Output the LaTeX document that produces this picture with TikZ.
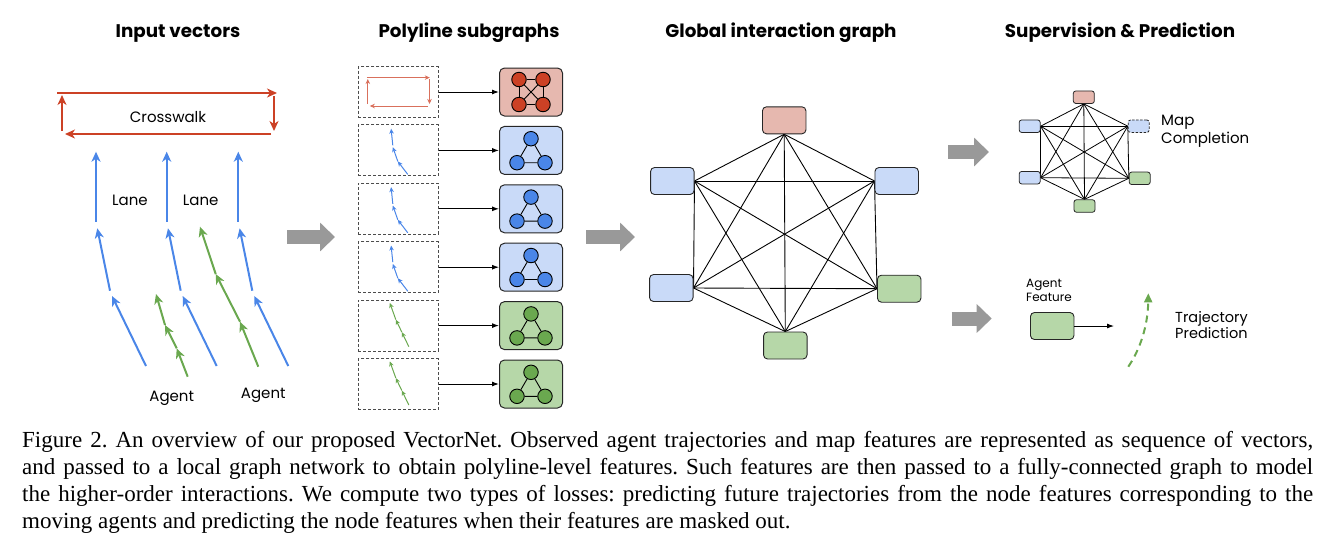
\documentclass[tikz,border=0pt]{standalone}
\usepackage{fontspec}
\setmainfont{Poppins}
\newfontfamily\capfont{Liberation Serif}
\usetikzlibrary{arrows.meta,positioning,backgrounds}
\definecolor{laneblue}{HTML}{4A86E8}
\definecolor{agentgreen}{HTML}{6AA84F}
\definecolor{walkred}{HTML}{CC4125}
\definecolor{redfill}{HTML}{E6B8AF}
\definecolor{bluefill}{HTML}{C9DAF8}
\definecolor{greenfill}{HTML}{B6D7A8}
\definecolor{arrowgray}{HTML}{999999}
\tikzset{vec/.style={line width=2pt,-{Stealth[length=10pt,width=9pt,inset=3pt]}},tinyvec/.style={line width=1pt,-{Stealth[length=5pt,width=4.5pt,inset=1.5pt]}},polybox/.style={draw=black!70,dash pattern=on 3pt off 2pt,line width=1pt,minimum width=80pt,minimum height=51pt,inner sep=0},subbox/.style={rounded corners=5pt,draw=black!85,line width=1pt,minimum width=63pt,minimum height=48pt,inner sep=0},dot/.style={circle,draw=black,line width=0.9pt,minimum size=14.5pt,inner sep=0},gnode/.style={rounded corners=4pt,draw=black!85,line width=0.9pt,minimum width=43.5pt,minimum height=27pt,inner sep=0},snode/.style={rounded corners=2.5pt,draw=black!85,line width=0.8pt,minimum width=21pt,minimum height=12.5pt,inner sep=0},gline/.style={draw=black,line width=0.9pt},link/.style={-{Latex[length=7pt,width=5pt]},line width=1pt},bigarrow/.style={draw=arrowgray,line width=14pt,-{Triangle[length=15pt,width=28pt]}},trajline/.style={draw=agentgreen,line width=2pt,dash pattern=on 7pt off 5pt,-{Triangle[length=9pt,width=8pt]}},title/.style={font=\fontsize{18.3}{21}\selectfont\bfseries,anchor=base},lbl/.style={font=\fontsize{15}{17}\selectfont,anchor=base,inner sep=0},capstyle/.style={anchor=north west,text width=1291pt,align=justify,inner sep=0,font=\capfont\fontsize{23}{27}\selectfont\frenchspacing}}

\begin{document}
\begin{tikzpicture}[x=1pt,y=-1pt]
\useasboundingbox (0,0) rectangle (1331,542);
\node[title] (t1) at (178,37) {Input vectors};
\node[title] (t2) at (469,37) {Polyline subgraphs};
\node[title] (t3) at (781,37) {Global interaction graph};
\node[title] (t4) at (1120,37) {Supervision \& Prediction};
% input vectors
\draw[vec,walkred] (57,93)--(277,93);\draw[vec,walkred] (274,96)--(274,131);\draw[vec,walkred] (271,134)--(65,134);\draw[vec,walkred] (62,131)--(62,95);
\node[lbl] (cw) at (168,122) {Crosswalk};
\foreach \x in {0,70.7,142.3} {\draw[vec,laneblue] (146+\x,366)--(112+\x,296);\draw[vec,laneblue] (110+\x,290.7)--(97.3+\x,228.3);\draw[vec,laneblue] (96+\x,221.7)--(96+\x,151.7);}
\draw[vec,agentgreen] (187.7,376.7)--(176.7,348.3);\draw[vec,agentgreen] (176.7,348.3)--(165,325);\draw[vec,agentgreen] (165,325)--(156,294);
\draw[vec,agentgreen] (258.3,366.7)--(240,321.7);\draw[vec,agentgreen] (240,321.7)--(215.7,274);\draw[vec,agentgreen] (215.7,274)--(200,226.7);
\node[lbl] (ln1) at (130,205) {Lane};
\node[lbl] (ln2) at (200.7,205) {Lane};
\node[lbl] (ag1) at (171.7,401) {Agent};
\node[lbl] (ag2) at (263.3,398.3) {Agent};
\coordinate (g1a) at (287,237);\coordinate (g1b) at (335,237);
\draw[bigarrow] (g1a)--(g1b);
% polyline subgraphs
\foreach \i/\f in {1/redfill,2/bluefill,3/bluefill,4/bluefill,5/greenfill,6/greenfill}{
\node[polybox] (p\i) at (398.3,{92+58.4*(\i-1)}) {};
\node[subbox,fill=\f] (s\i) at (531,{92+58.4*(\i-1)}) {};
\draw[link] (p\i)--(s\i);}
\node[dot,fill=walkred] (r1) at ([shift={(-12,-12.5)}]s1) {};
\node[dot,fill=walkred] (r2) at ([shift={(12,-12.5)}]s1) {};
\node[dot,fill=walkred] (r3) at ([shift={(-12,12.5)}]s1) {};
\node[dot,fill=walkred] (r4) at ([shift={(12,12.5)}]s1) {};
\draw[gline] (r1)--(r2)--(r4)--(r3)--(r1);\draw[gline] (r1)--(r4);\draw[gline] (r2)--(r3);
\foreach \i/\d in {2/laneblue,3/laneblue,4/laneblue,5/agentgreen,6/agentgreen}{
\node[dot,fill=\d] (a\i) at ([shift={(0,-11.7)}]s\i) {};
\node[dot,fill=\d] (b\i) at ([shift={(-14,12.3)}]s\i) {};
\node[dot,fill=\d] (c\i) at ([shift={(14,12.3)}]s\i) {};
\draw[gline] (a\i)--(b\i)--(c\i)--(a\i);}
\begin{scope}[shift={(p1.north west)}]
\draw[tinyvec,walkred!75] (9,11.6)--(72,11.6);\draw[tinyvec,walkred!75] (71.7,13)--(71.7,38);\draw[tinyvec,walkred!75] (70,40)--(12,40);\draw[tinyvec,walkred!75] (10,38)--(10,13);
\end{scope}
\foreach \i in {2,3,4}{\begin{scope}[shift={(p\i.north west)}]
\draw[tinyvec,laneblue] (50,50)--(40,37);\draw[tinyvec,laneblue] (40,37)--(35,22.7);\draw[tinyvec,laneblue] (35,21)--(33.3,4.3);
\end{scope}}
\foreach \i in {5,6}{\begin{scope}[shift={(p\i.north west)}]
\draw[tinyvec,agentgreen] (51,47)--(44,32.5);\draw[tinyvec,agentgreen] (44,32.5)--(38,20);\draw[tinyvec,agentgreen] (38,20)--(32,3.3);
\end{scope}}
\coordinate (g2a) at (586,237);\coordinate (g2b) at (635,237);
\draw[bigarrow] (g2a)--(g2b);
% global interaction graph
\node[gnode,fill=redfill] (gt) at (784.2,120.3) {};
\node[gnode,fill=bluefill] (gul) at (672.3,181) {};
\node[gnode,fill=bluefill] (gur) at (896.7,181) {};
\node[gnode,fill=bluefill] (gll) at (671.3,288) {};
\node[gnode,fill=greenfill] (glr) at (899.2,288.7) {};
\node[gnode,fill=greenfill] (gb) at (785.3,345.5) {};
\begin{scope}[on background layer]
\foreach \a/\b in {gt.south/gul.east,gt.south/gur.west,gt.south/gll.east,gt.south/glr.west,gt.south/gb.north,gul.east/gur.west,gul.east/gll.east,gul.east/glr.west,gul.east/gb.north,gur.west/gll.east,gur.west/glr.west,gur.west/gb.north,gll.east/glr.west,gll.east/gb.north,glr.west/gb.north}
\draw[gline] (\a)--(\b);
\end{scope}
% supervision
\coordinate (g3a) at (948,152);\coordinate (g3b) at (989,152);
\draw[bigarrow] (g3a)--(g3b);
\node[snode,fill=redfill] (mt) at (1083.8,97.2) {};
\node[snode,fill=bluefill] (mul) at (1029.7,126.2) {};
\node[snode,fill=bluefill,dash pattern=on 2.5pt off 1.5pt] (mur) at (1138.7,126.2) {};
\node[snode,fill=bluefill] (mll) at (1029.7,177.7) {};
\node[snode,fill=greenfill] (mlr) at (1139.7,178.3) {};
\node[snode,fill=greenfill] (mb) at (1084.5,206) {};
\begin{scope}[on background layer]
\foreach \a/\b in {mt.south/mul.east,mt.south/mur.west,mt.south/mll.east,mt.south/mlr.west,mt.south/mb.north,mul.east/mur.west,mul.east/mll.east,mul.east/mlr.west,mul.east/mb.north,mur.west/mll.east,mur.west/mlr.west,mur.west/mb.north,mll.east/mlr.west,mll.east/mb.north,mlr.west/mb.north}
\draw[gline,line width=0.8pt] (\a)--(\b);
\end{scope}
\node[anchor=west,align=left,inner sep=0,font=\fontsize{15}{18}\selectfont] (mc) at (1161,131) {Map\\Completion};
\coordinate (g4a) at (951.7,318.5);\coordinate (g4b) at (991.7,318.5);
\draw[bigarrow] (g4a)--(g4b);
\node[anchor=west,align=left,inner sep=0,font=\fontsize{12}{14}\selectfont] (afl) at (1026,290.5) {Agent\\Feature};
\node[gnode,fill=greenfill] (af) at (1052.2,326) {};
\coordinate (afend) at (1114,326);
\draw[link,line width=0.9pt] (af.east)--(afend);
\coordinate (tr0) at (1128.3,366.7);\coordinate (tr1) at (1148.3,293.3);
\draw[trajline] (tr0) .. controls (1143,345) and (1148,320) .. (tr1);
\node[anchor=west,align=left,inner sep=0,font=\fontsize{14.5}{16.6}\selectfont] (tp) at (1175,325) {Trajectory\\Prediction};
% caption
\node[capstyle] (cap) at (22,431) {Figure 2. An overview of our proposed VectorNet. Observed agent trajectories and map features are represented as sequence of vectors,\linebreak and passed to a local graph network to obtain polyline-level features. Such features are then passed to a fully-connected graph to model\linebreak the higher-order interactions. We compute two types of losses: predicting future trajectories from the node features corresponding to the\linebreak moving agents and predicting the node features when their features are masked out.};
\end{tikzpicture}
\end{document}
